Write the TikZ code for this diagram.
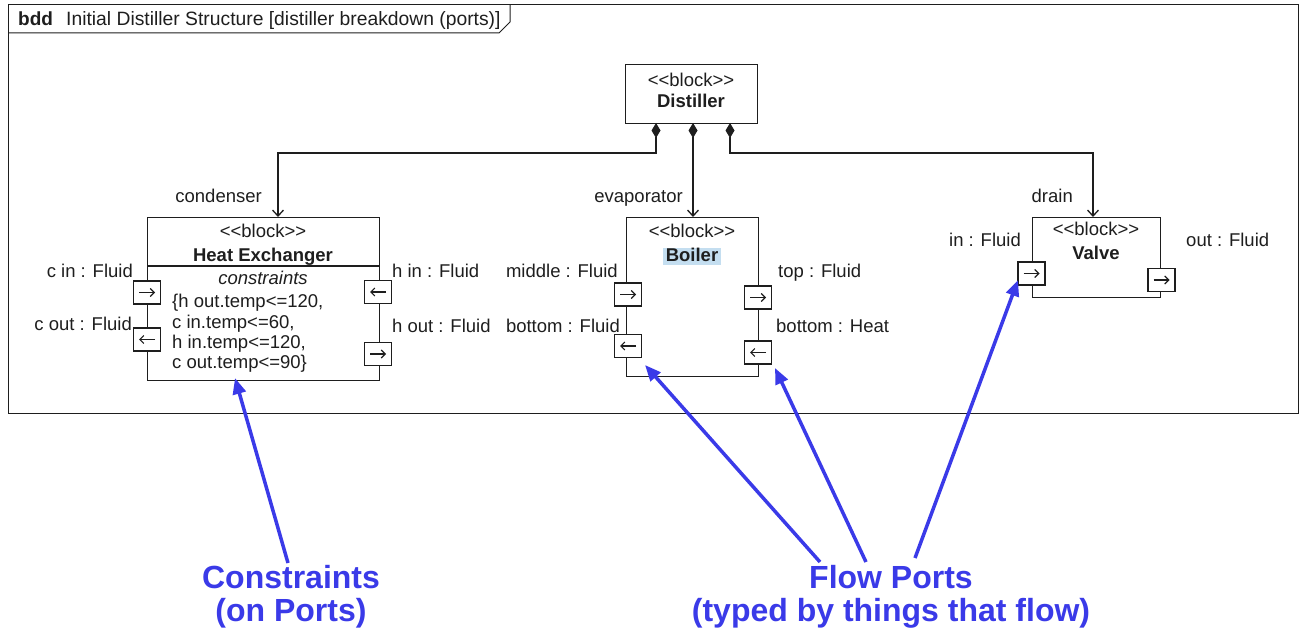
\documentclass[tikz,border=0pt]{standalone}
\usepackage{fontspec}
\setmainfont{Liberation Sans}[Ligatures=TeXOff]
\usetikzlibrary{arrows.meta}
\definecolor{noteblue}{RGB}{58,58,232}
\definecolor{selblue}{RGB}{196,222,240}
\definecolor{ink}{RGB}{30,30,30}

\begin{document}
\begin{tikzpicture}[x=1pt,y=-1pt,
  every node/.style={font=\fontsize{18.5}{20}\selectfont, inner sep=0pt, text=ink},
  blockbox/.style={draw=ink, line width=1.3pt, fill=white, inner sep=0pt, anchor=north west},
  portbox/.style={draw=ink, line width=1.2pt, fill=white, minimum width=27pt, minimum height=23pt},
  lbl/.style={anchor=base},
  lbll/.style={anchor=base east},
  lblr/.style={anchor=base west},
  comp/.style={draw=ink, line width=1.3pt, {Diamond[length=15pt,width=9pt]}-{Straight Barb[length=6pt,width=11pt]}},
  flow/.style={draw=ink, line width=1.1pt, -{Straight Barb[length=4pt,width=8pt]}},
  note/.style={line width=3.5pt, noteblue, -{Triangle[length=16pt,width=13pt]}},
  notetext/.style={text=noteblue, font=\fontsize{32}{33}\selectfont\bfseries, anchor=base}
]
\useasboundingbox (0,0) rectangle (1306,636);

% diagram frame with its name tab
\draw[ink, line width=1pt] (8,5) rectangle (1298,413);
\draw[ink, line width=1pt] (8,33) -- (499,33) -- (510,22) -- (510,5);
\node[lblr, font=\fontsize{19}{20}\selectfont\bfseries] (kind) at (18,26) {bdd};
\node[lblr, font=\fontsize{19.3}{20}\selectfont] (title) at (66,26) {Initial Distiller Structure [distiller breakdown (ports)]};

% blocks
\node[blockbox, minimum width=132pt, minimum height=59pt] (dist) at (625,64) {};
\node[lbl] (distst) at (691,87) {<<block>>};
\node[lbl, font=\fontsize{18.5}{20}\selectfont\bfseries] (distnm) at (691,108) {Distiller};

\node[blockbox, minimum width=232pt, minimum height=163pt] (hx) at (147,217) {};
\draw[ink, line width=1.3pt] (hx.west |- 0,266) -- (hx.east |- 0,266);
\node[lbl] (hxst) at (263,238) {<<block>>};
\node[lbl, font=\fontsize{18.5}{20}\selectfont\bfseries] (hxnm) at (263,262) {Heat Exchanger};
\node[lbl, font=\fontsize{18.5}{20}\selectfont\itshape] (hxcomp) at (263,285) {constraints};
\node[lblr] (c1) at (172,308) {\{h out.temp<=120,};
\node[lblr] (c2) at (172,328) {c in.temp<=60,};
\node[lblr] (c3) at (172,348) {h in.temp<=120,};
\node[lblr] (c4) at (172,368) {c out.temp<=90\}};

\node[blockbox, minimum width=132pt, minimum height=159pt] (boil) at (626,217) {};
\node[lbl] (boilst) at (692,238) {<<block>>};
\fill[selblue] (663,248) rectangle (721,265);
\node[lbl, font=\fontsize{18.5}{20}\selectfont\bfseries] (boilnm) at (692,262) {Boiler};

\node[blockbox, minimum width=128pt, minimum height=80pt] (valve) at (1032,217) {};
\node[lbl] (valvest) at (1096,236) {<<block>>};
\node[lbl, font=\fontsize{18.5}{20}\selectfont\bfseries] (valvenm) at (1096,260) {Valve};

% composition
\coordinate (d1) at (656,123);
\coordinate (d2) at (693,123);
\coordinate (d3) at (730,123);
\coordinate (hxin) at (278,217);
\coordinate (boilin) at (693,217);
\coordinate (valvein) at (1093,217);
\draw[comp] (d1) -- ++(0,30) -| (hxin);
\draw[comp] (d2) -- (boilin);
\draw[comp] (d3) -- ++(0,30) -| (valvein);
\node[lbll] (rolec) at (262,203) {condenser};
\node[lbll] (rolee) at (683,203) {evaporator};
\node[lbll] (roled) at (1073,203) {drain};

% flow ports
\node[portbox] (pcin) at (147,292.5) {};
\node[portbox] (pcout) at (147,339.5) {};
\node[portbox] (phin) at (378,292) {};
\node[portbox] (phout) at (378,354) {};
\node[portbox] (pmid) at (628,294.5) {};
\node[portbox] (pbf) at (628,346) {};
\node[portbox] (ptop) at (758,297.5) {};
\node[portbox] (pbh) at (758,352.5) {};
\node[portbox] (pvin) at (1031.5,273.5) {};
\node[portbox] (pvout) at (1161.5,280) {};

\foreach \p in {pcin,phout,pmid,ptop,pvin,pvout}
  \draw[flow] ([xshift=-8pt]\p.center) -- ([xshift=8pt]\p.center);
\foreach \p in {pcout,phin,pbf,pbh}
  \draw[flow] ([xshift=8pt]\p.center) -- ([xshift=-8pt]\p.center);

\node[lbll] at (133,277) {c in : Fluid};
\node[lbll] at (132,330) {c out : Fluid};
\node[lblr] at (392,278) {h in : Fluid};
\node[lblr] at (392,332) {h out : Fluid};
\node[lbll] at (618,278) {middle : Fluid};
\node[lbll] at (620,332) {bottom : Fluid};
\node[lblr] at (778,278) {top : Fluid};
\node[lblr] at (776,332) {bottom : Heat};
\node[lbll] at (1021,247) {in : Fluid};
\node[lblr] at (1186,247) {out : Fluid};

% annotations
\node[notetext] (cnote) at (291,588) {Constraints};
\node[notetext] (cnote2) at (291,621) {(on Ports)};
\node[notetext] (fnote) at (891,588) {Flow Ports};
\node[notetext] (fnote2) at (891,621) {(typed by things that flow)};

\coordinate (ctail) at (288,563);
\coordinate (ctip) at (235,378);
\coordinate (ftail1) at (820,562);
\coordinate (ftip1) at (645,365);
\coordinate (ftail2) at (866,562);
\coordinate (ftip2) at (775,368);
\coordinate (ftail3) at (915,558);
\coordinate (ftip3) at (1018,280);
\draw[note] (ctail) -- (ctip);
\draw[note] (ftail1) -- (ftip1);
\draw[note] (ftail2) -- (ftip2);
\draw[note] (ftail3) -- (ftip3);
\end{tikzpicture}
\end{document}
